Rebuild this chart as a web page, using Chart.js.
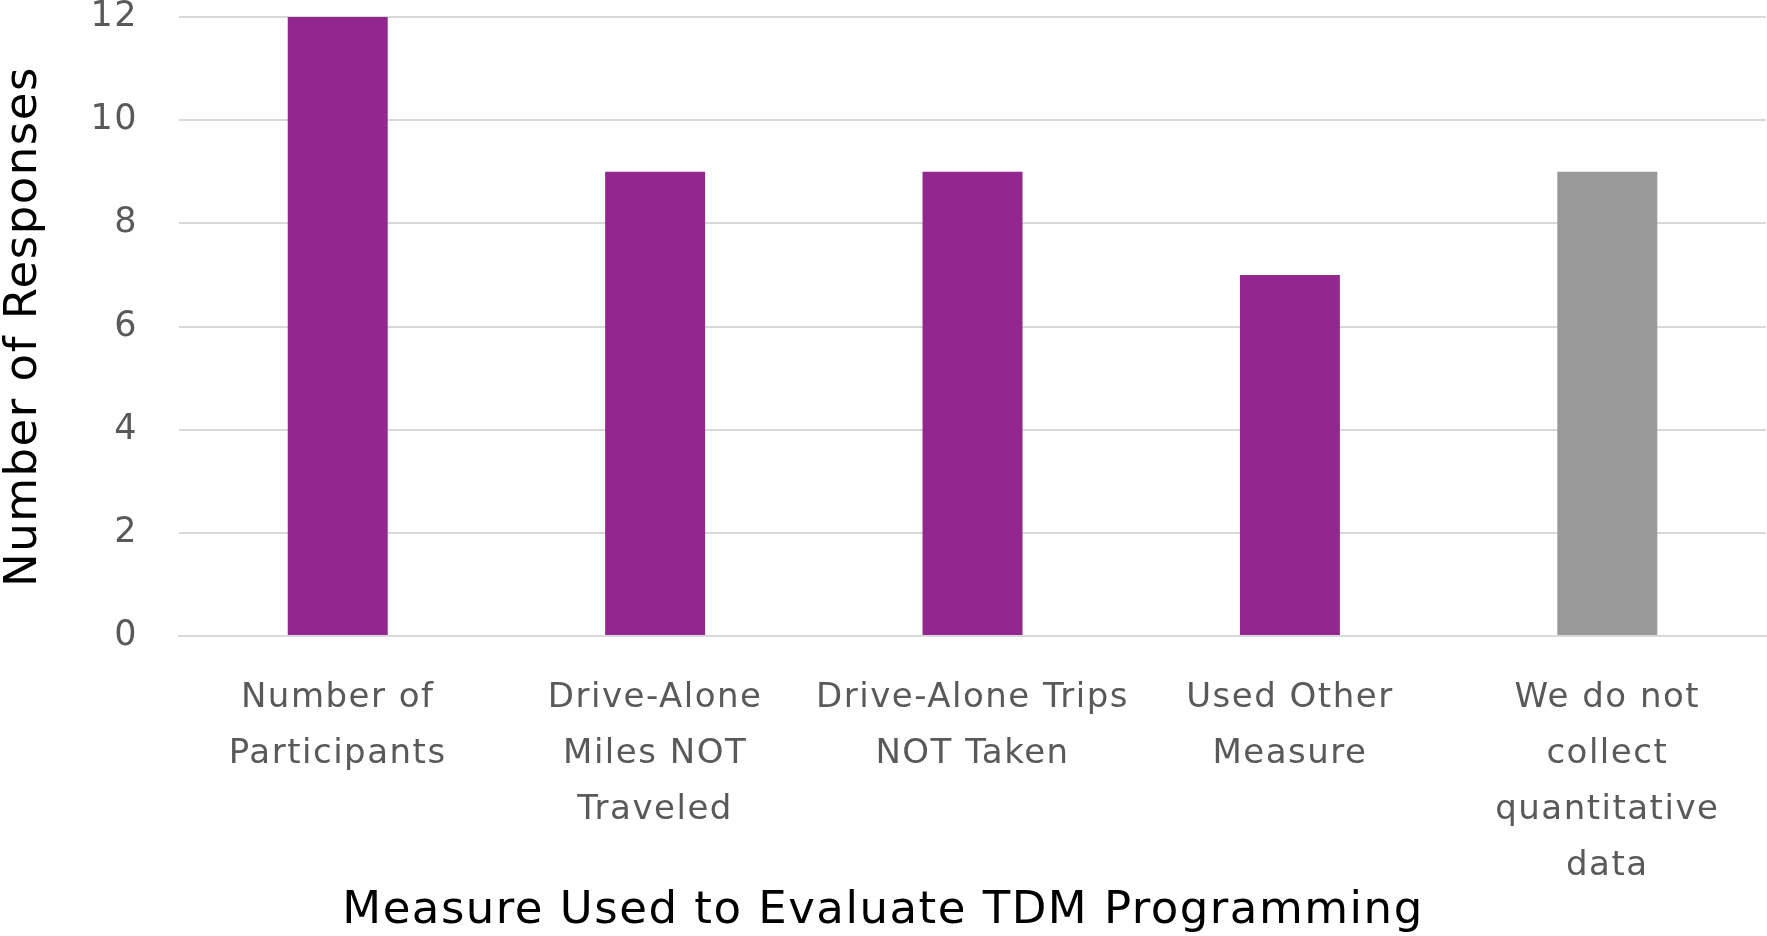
<!DOCTYPE html>
<html>
<head>
<meta charset="utf-8">
<script src="https://cdn.jsdelivr.net/npm/chart.js@4"></script>
<style>
  body { margin: 0; background: #fff; overflow: hidden; }
</style>
</head>
<body>
<canvas id="chart" width="1767" height="936"></canvas>
<script>
// Dados do gráfico
const categories = [
  ['Number of', 'Participants'],
  ['Drive-Alone', 'Miles NOT', 'Traveled'],
  ['Drive-Alone Trips', 'NOT Taken'],
  ['Used Other', 'Measure'],
  ['We do not', 'collect', 'quantitative', 'data']
];
const responses = [12, 9, 9, 7, 9];
const barColors = ['#92278f', '#92278f', '#92278f', '#92278f', '#999999'];
const yTicks = [0, 2, 4, 6, 8, 10, 12];

const fontFamily = '"DejaVu Sans", sans-serif';

// espaçamento entre letras, para ficar mais perto da fonte original
const spacingPlugin = {
  id: 'spacing',
  beforeLayout: (chart) => { chart.ctx.letterSpacing = '1.5px'; },
  beforeDraw: (chart) => { chart.ctx.letterSpacing = '1.5px'; }
};

const config = {
  type: 'bar',
  data: {
    labels: categories,
    datasets: [{
      data: responses,
      backgroundColor: barColors,
      borderWidth: 0,
      categoryPercentage: 1,
      barPercentage: 0.315
    }]
  },
  options: {
    responsive: false,
    devicePixelRatio: 1,
    animation: false,
    layout: { padding: { top: 0, right: 1, bottom: 0, left: 0 } },
    plugins: {
      legend: { display: false },
      tooltip: { enabled: false },
      title: {
        display: true,
        position: 'bottom',
        text: 'Measure Used to Evaluate TDM Programming',
        color: '#000',
        font: { family: fontFamily, size: 45, weight: 'normal', lineHeight: 1.1 },
        padding: { top: -42, bottom: 0 }
      }
    },
    scales: {
      x: {
        grid: { display: false, drawTicks: false },
        border: { display: true, color: '#d9d9d9', width: 2 },
        ticks: {
          color: '#595959',
          font: { family: fontFamily, size: 34, lineHeight: 1.65 },
          padding: 34,
          maxRotation: 0,
          autoSkip: false
        }
      },
      y: {
        min: 0,
        max: 12,
        afterBuildTicks: (axis) => { axis.ticks = yTicks.map(v => ({ value: v })); },
        afterFit: (axis) => { axis.paddingTop = 17; },
        grid: { color: '#d9d9d9', lineWidth: 2, drawTicks: false },
        border: { display: false },
        ticks: {
          color: '#595959',
          font: { family: fontFamily, size: 35 },
          padding: 41
        },
        title: {
          display: true,
          text: 'Number of Responses',
          color: '#000',
          font: { family: fontFamily, size: 45, weight: 'normal', lineHeight: 1.1 },
          padding: 0
        }
      }
    }
  },
  plugins: [spacingPlugin]
};

new Chart(document.getElementById('chart'), config);
</script>
</body>
</html>
